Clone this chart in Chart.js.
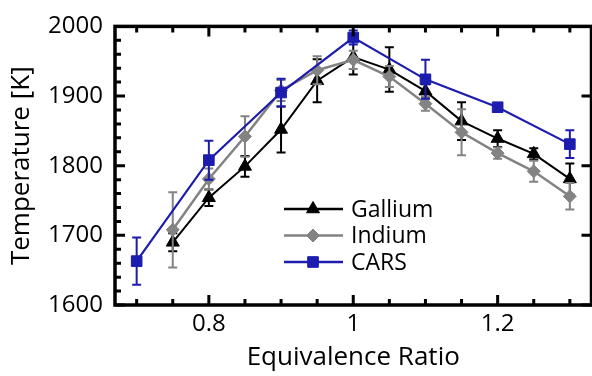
<!DOCTYPE html>
<html>
<head>
<meta charset="utf-8">
<script src="https://cdn.jsdelivr.net/npm/chart.js@4.4.1/dist/chart.umd.min.js"></script>
<style>
  html, body { margin: 0; padding: 0; background: #fff; overflow: hidden; }
  #wrap { width: 592px; height: 376px; overflow: hidden; }
</style>
</head>
<body>
<div id="wrap"><canvas id="tempChart" width="600" height="376"></canvas></div>
<script>
// flame temperature vs equivalence ratio
const galliumPhi = [0.75, 0.8, 0.85, 0.9, 0.95, 1.0, 1.05, 1.1, 1.15, 1.2, 1.25, 1.3];
const galliumT   = [1690, 1754, 1799, 1852, 1922, 1956, 1938, 1907, 1864, 1839, 1817, 1781];
const galliumErr = [13, 12, 15, 33, 31, 25, 32, 10, 27, 12, 8, 22];

const indiumPhi = [0.75, 0.8, 0.85, 0.9, 0.95, 1.0, 1.05, 1.1, 1.15, 1.2, 1.25, 1.3];
const indiumT   = [1708, 1781, 1842, 1908, 1937, 1952, 1928, 1889, 1848, 1818, 1792, 1756];
const indiumErr = [54, 15, 29, 15, 20, 13, 15, 10, 33, 8, 15, 19];

const carsPhi = [0.7, 0.8, 0.9, 1.0, 1.1, 1.2, 1.3];
const carsT   = [1663, 1808, 1905, 1984, 1924, 1884, 1831];
const carsErr = [34, 28, 20, 10, 28, 5, 20];

const xTicks = [0.8, 1.0, 1.2];
const yTicks = [1600, 1700, 1800, 1900, 2000];

const FONT = "'Open Sans', 'DejaVu Sans', sans-serif";
const BLUE = '#1c1cae';
const GRAY = '#838383';
const BLACK = '#000000';

function pts(xs, ys, errs) {
  return xs.map((x, i) => ({ x: x, y: ys[i], err: errs[i] }));
}

// error bars, drawn under each dataset's line and markers
const errorBars = {
  id: 'errorBars',
  beforeDatasetDraw(chart, args) {
    const ds = chart.data.datasets[args.index];
    const xs = chart.scales.x, ys = chart.scales.y;
    const ctx = chart.ctx;
    ctx.save();
    ctx.strokeStyle = ds.borderColor;
    ctx.lineWidth = 2;
    ds.data.forEach(p => {
      const px = xs.getPixelForValue(p.x);
      const top = ys.getPixelForValue(p.y + p.err);
      const bot = ys.getPixelForValue(p.y - p.err);
      ctx.beginPath();
      ctx.moveTo(px, top); ctx.lineTo(px, bot);
      ctx.moveTo(px - 4.5, top); ctx.lineTo(px + 4.5, top);
      ctx.moveTo(px - 4.5, bot); ctx.lineTo(px + 4.5, bot);
      ctx.stroke();
    });
    ctx.restore();
  }
};

// boxed frame with inward ticks
const frame = {
  id: 'frame',
  afterDraw(chart) {
    const { ctx, chartArea: a, scales: { x, y } } = chart;
    ctx.save();
    ctx.strokeStyle = '#000';
    ctx.lineWidth = 3.5;
    ctx.strokeRect(a.left, a.top, a.right - a.left, a.bottom - a.top);
    ctx.lineWidth = 3;
    ctx.beginPath();
    for (let i = 14; i <= 26; i++) {
      const px = x.getPixelForValue(i * 0.05);
      const len = i % 4 === 0 ? 10 : 6;
      ctx.moveTo(px, a.bottom); ctx.lineTo(px, a.bottom - len);
      ctx.moveTo(px, a.top); ctx.lineTo(px, a.top + len);
    }
    for (let v = 1600; v <= 2000; v += 20) {
      const py = y.getPixelForValue(v);
      const major = v % 100 === 0;
      ctx.moveTo(a.left, py); ctx.lineTo(a.left + (major ? 10 : 6), py);
      if (major) { ctx.moveTo(a.right, py); ctx.lineTo(a.right - 10, py); }
    }
    ctx.stroke();
    ctx.restore();
  }
};

// legend inside the plot area
const insideLegend = {
  id: 'insideLegend',
  afterDraw(chart) {
    const ctx = chart.ctx;
    const rows = [2, 1, 0];
    ctx.save();
    ctx.font = '23px ' + FONT;
    ctx.textBaseline = 'middle';
    rows.forEach((di, r) => {
      const ds = chart.data.datasets[di];
      const yy = 209 + r * 26.5;
      ctx.strokeStyle = ds.borderColor;
      ctx.fillStyle = ds.backgroundColor;
      ctx.lineWidth = 2.5;
      ctx.beginPath(); ctx.moveTo(284, yy); ctx.lineTo(343, yy); ctx.stroke();
      ctx.lineWidth = 1;
      Chart.helpers.drawPoint(ctx, {
        pointStyle: ds.pointStyle, radius: ds.pointRadius, borderWidth: 1
      }, 313, yy);
      ctx.fillStyle = '#000';
      ctx.fillText(ds.label, 351, yy + 1);
    });
    ctx.restore();
  }
};

Chart.defaults.font.family = FONT;
Chart.defaults.color = '#000';

new Chart(document.getElementById('tempChart'), {
  type: 'line',
  data: {
    datasets: [
      {
        label: 'CARS', data: pts(carsPhi, carsT, carsErr),
        borderColor: BLUE, backgroundColor: BLUE, borderWidth: 2.2,
        pointStyle: 'rect', pointRadius: 7.5, pointBorderWidth: 1
      },
      {
        label: 'Indium', data: pts(indiumPhi, indiumT, indiumErr),
        borderColor: GRAY, backgroundColor: GRAY, borderWidth: 2.5,
        pointStyle: 'rectRot', pointRadius: 6.5, pointBorderWidth: 1
      },
      {
        label: 'Gallium', data: pts(galliumPhi, galliumT, galliumErr),
        borderColor: BLACK, backgroundColor: BLACK, borderWidth: 2,
        pointStyle: 'triangle', pointRadius: 7.5, pointBorderWidth: 1
      }
    ]
  },
  options: {
    responsive: false,
    animation: false,
    layout: { padding: { top: 17, right: 3, left: 0, bottom: 0 } },
    plugins: { legend: { display: false }, tooltip: { enabled: false } },
    scales: {
      x: {
        type: 'linear', min: 0.67, max: 1.33,
        afterFit: s => { s.height = 71; },
        afterBuildTicks: s => { s.ticks = xTicks.map(v => ({ value: v })); },
        grid: { display: false, drawTicks: false },
        border: { display: false },
        ticks: {
          padding: 5, font: { size: 24 },
          callback: v => String(+v.toFixed(2))
        },
        title: { display: true, text: 'Equivalence Ratio', font: { size: 26 }, padding: { top: 0, bottom: 3 } }
      },
      y: {
        min: 1600, max: 2000,
        afterFit: s => { s.width = 115; },
        afterBuildTicks: s => { s.ticks = yTicks.map(v => ({ value: v })); },
        grid: { display: false, drawTicks: false },
        border: { display: false },
        ticks: { padding: 12, font: { size: 24 }, callback: v => String(v) },
        title: { display: true, text: 'Temperature [K]', font: { size: 26 }, padding: { top: 6, bottom: 0 } }
      }
    }
  },
  plugins: [errorBars, frame, insideLegend]
});
</script>
</body>
</html>
